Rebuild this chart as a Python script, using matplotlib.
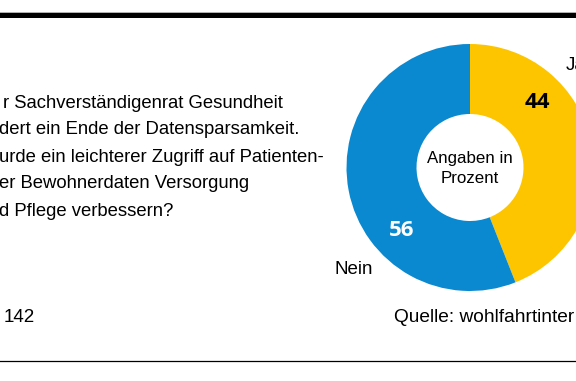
import matplotlib
matplotlib.use("Agg")
import matplotlib.pyplot as plt
from matplotlib.patches import Rectangle
from matplotlib.lines import Line2D

W, H = 576, 381
categories = ["Ja", "Nein"]
values = [44, 56]
colors = ["#fdc500", "#0a88d0"]
question_lines = [
    "r Sachverständigenrat Gesundheit",
    "dert ein Ende der Datensparsamkeit.",
    "urde ein leichterer Zugriff auf Patienten-",
    "er Bewohnerdaten Versorgung",
    "d Pflege verbessern?",
]
center_text = "Angaben in\nProzent"
footer_left = "142"
footer_right = "Quelle: wohlfahrtinter"

NARROW = ["Liberation Sans", "DejaVu Sans"]
BOLD = ["Open Sans", "DejaVu Sans"]

fig = plt.figure(figsize=(W / 100, H / 100), dpi=100)
fig.patch.set_facecolor("white")

def fx(x):
    return x / W

def fy(y):
    return 1 - y / H

# top rule
fig.patches.append(Rectangle((0, fy(12.8)), 1, 1.2 / H, transform=fig.transFigure,
                             facecolor="#b0b0b0", edgecolor="none"))
fig.patches.append(Rectangle((0, fy(17.5)), 1, 4.7 / H, transform=fig.transFigure,
                             facecolor="black", edgecolor="none"))
# bottom rule
fig.lines.append(Line2D([0, 1], [fy(361), fy(361)], transform=fig.transFigure,
                        color="black", lw=0.9))

# donut
cx, cy, R = 470, 167.5, 123.5
r_in = 53.5
ax = fig.add_axes([fx(cx - R), (H - cy - R) / H, 2 * R / W, 2 * R / H])
ax.axis("off")
wedges, _ = ax.pie(values, colors=colors, startangle=90, counterclock=False,
                   radius=1, wedgeprops=dict(width=1 - r_in / R, edgecolor="none"))
ax.set_xlim(-1, 1)
ax.set_ylim(-1, 1)
ax.set_aspect("auto")
for w in wedges:
    w.set_clip_on(False)

def dc(px, py):
    return (px - cx) / R, (cy - py) / R

ax.text(*dc(537, 102), str(values[0]), ha="center", va="center", fontsize=16,
        fontweight="bold", family=BOLD, color="black")
ax.text(*dc(402, 230), str(values[1]), ha="center", va="center", fontsize=16,
        fontweight="bold", family=BOLD, color="white")
ax.text(*dc(566, 65), categories[0], ha="left", va="center", fontsize=13.5,
        family=NARROW, color="black", clip_on=False)
ax.text(*dc(334, 269), categories[1], ha="left", va="center", fontsize=13.5,
        family=NARROW, color="black", clip_on=False)
ax.text(*dc(470, 168.5), center_text, ha="center", va="center", fontsize=12.2,
        family=NARROW, color="black", linespacing=1.45)

# question text
ys = [103, 130, 157, 184, 211]
for i, (line, y) in enumerate(zip(question_lines, ys)):
    x0 = 3 if i == 0 else -1
    fig.text(fx(x0), fy(y), line, ha="left", va="center", fontsize=13.3,
             family=NARROW, color="black")

# footer
fig.text(fx(4), fy(317), footer_left, ha="left", va="center", fontsize=13.5,
         family=NARROW, color="black")
fig.text(fx(394), fy(317), footer_right, ha="left", va="center", fontsize=13.8,
         family=NARROW, color="black")

fig.savefig("out.png", dpi=100, facecolor="white")
